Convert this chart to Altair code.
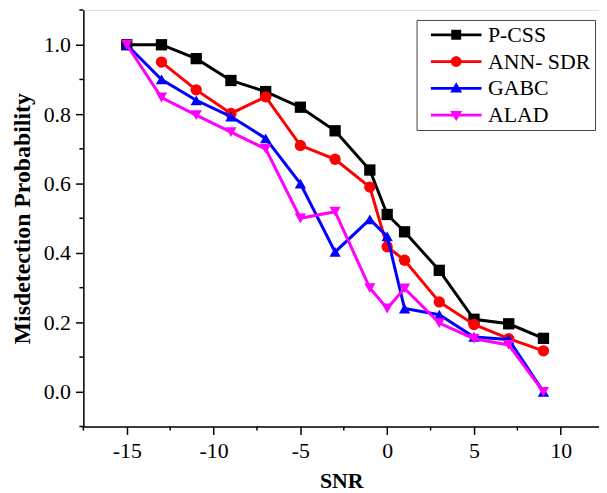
import altair as alt
import pandas as pd

snr = [-15, -13, -11, -9, -7, -5, -3, -1, 0, 1, 3, 5, 7, 9]
p_css = [1.0, 1.0, 0.96, 0.897, 0.865, 0.82, 0.752, 0.639, 0.511, 0.461, 0.35, 0.209, 0.196, 0.154]
ann_sdr = [None, 0.95, 0.87, 0.802, 0.85, 0.71, 0.67, 0.59, 0.418, 0.379, 0.259, 0.194, 0.153, 0.118]
gabc = [1.0, 0.90, 0.84, 0.793, 0.73, 0.60, 0.403, 0.497, 0.448, 0.24, 0.222, 0.158, 0.151, 0.0]
alad = [1.0, 0.848, 0.797, 0.748, 0.70, 0.50, 0.519, 0.299, 0.24, 0.298, 0.198, 0.153, 0.135, 0.0]

series_names = ["P-CSS", "ANN- SDR", "GABC", "ALAD"]
series_values = [p_css, ann_sdr, gabc, alad]
series_colors = ["#000000", "#FF0000", "#0000FF", "#FF00FF"]
series_shapes = ["square", "circle", "triangle-up", "triangle-down"]

x_ticks = [-15, -10, -5, 0, 5, 10]
x_minor = [-17.5, -12.5, -7.5, -2.5, 2.5, 7.5]
y_ticks = [0.0, 0.2, 0.4, 0.6, 0.8, 1.0]
y_minor = [-0.1, 0.1, 0.3, 0.5, 0.7, 0.9, 1.1]

rows = []
for name, vals in zip(series_names, series_values):
    for s, v in zip(snr, vals):
        if v is not None:
            rows.append({"series": name, "snr": s, "value": v})
df = pd.DataFrame(rows)

W, H = 520, 420
FONT = "Liberation Serif, Times New Roman, serif"

xscale = alt.Scale(domain=[-17.5, 12.2], nice=False, zero=False)
yscale = alt.Scale(domain=[-0.1, 1.1], nice=False, zero=False)
cscale = alt.Scale(domain=series_names, range=series_colors)
sscale = alt.Scale(domain=series_names, range=series_shapes)

# legend symbols: a line with the marker on it (unit = 5 px at symbol size 100)
line_p = "M-5.1,-0.28L5.1,-0.28L5.1,0.28L-5.1,0.28Z"
legend_paths = [
    line_p + "M-1,-1L1,-1L1,1L-1,1Z",
    line_p + "M1.1,0A1.1,1.1,0,1,1,-1.1,0A1.1,1.1,0,1,1,1.1,0Z",
    line_p + "M0,-1.25L1.2,0.85L-1.2,0.85Z",
    line_p + "M0,1.25L-1.2,-0.85L1.2,-0.85Z",
]
lscale = alt.Scale(domain=series_names, range=legend_paths)

legend = alt.Legend(
    title=None,
    orient="none",
    legendX=336,
    legendY=10,
    padding=4,
    rowPadding=5,
    symbolSize=100,
    symbolOffset=25,
    labelOffset=21,
    symbolStrokeWidth=0,
    symbolOpacity=1,
    labelFont=FONT,
    labelFontSize=22,
    labelColor="black",
    strokeColor="#444444",
    fillColor="white",
)

x_enc = alt.X("snr:Q", scale=xscale, title="SNR",
              axis=alt.Axis(values=x_ticks, labelExpr="toString(datum.value)", grid=False,
                            tickSize=8, tickWidth=1.5, domainWidth=1.5, domainColor="black",
                            tickColor="black", labelPadding=6, titlePadding=10,
                            labelFont=FONT, labelFontSize=22, labelColor="black",
                            titleFont=FONT, titleFontSize=22, titleFontWeight="bold",
                            titleColor="black"))
y_enc = alt.Y("value:Q", scale=yscale, title="Misdetection Probability",
              axis=alt.Axis(values=y_ticks, format=".1f", grid=False,
                            tickSize=8, tickWidth=1.5, domainWidth=1.5, domainColor="black",
                            tickColor="black", labelPadding=5, titlePadding=9,
                            labelFont=FONT, labelFontSize=22, labelColor="black",
                            titleFont=FONT, titleFontSize=24, titleFontWeight="bold",
                            titleColor="black"))

layers = []
for name in series_names:
    base = alt.Chart(df).transform_filter(alt.datum.series == name)
    ln = base.mark_line(strokeWidth=3).encode(
        x=x_enc, y=y_enc,
        color=alt.Color("series:N", scale=cscale, legend=None),
    )
    pt = base.mark_point(filled=True, opacity=1, size=130, strokeWidth=0).encode(
        x=x_enc, y=y_enc,
        color=alt.Color("series:N", scale=cscale, legend=None),
        shape=alt.Shape("series:N", scale=sscale, legend=None),
    )
    layers += [ln, pt]

leg_layer = alt.Chart(pd.DataFrame({"series": series_names})).mark_point(
    filled=True, opacity=1, size=100, strokeWidth=0
).encode(
    x=alt.value(-3000), y=alt.value(-3000),
    color=alt.Color("series:N", scale=cscale, legend=legend),
    shape=alt.Shape("series:N", scale=lscale, legend=legend),
)

xm = alt.Chart(pd.DataFrame({"m": x_minor})).mark_rule(color="black", strokeWidth=1.5).encode(
    x=alt.X("m:Q", scale=xscale), y=alt.value(H), y2=alt.value(H + 4))
ym = alt.Chart(pd.DataFrame({"m": y_minor})).mark_rule(color="black", strokeWidth=1.5).encode(
    y=alt.Y("m:Q", scale=yscale), x=alt.value(-4), x2=alt.value(0))

chart = alt.layer(*layers, xm, ym, leg_layer).resolve_scale(
    color="independent", shape="independent"
).properties(
    width=W, height=H,
    autosize=alt.AutoSizeParams(type="none"),
    padding={"left": 76, "top": 0, "right": 0, "bottom": 65},
).configure_view(stroke=None).configure(background="white")

chart.save("out.html", embed_options={"renderer": "svg", "actions": False})
